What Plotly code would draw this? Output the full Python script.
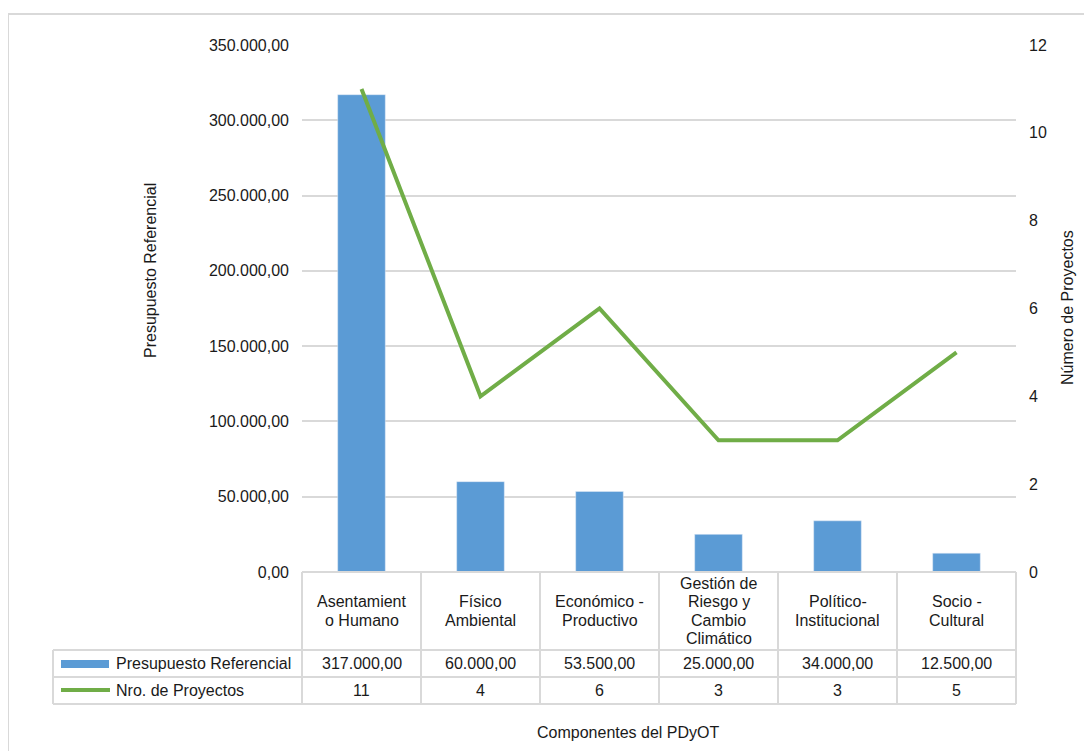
import plotly.graph_objects as go

# ---- data ----
categories = ["Asentamient\no Humano", "Físico\nAmbiental", "Económico -\nProductivo",
              "Gestión de\nRiesgo y\nCambio\nClimático", "Político-\nInstitucional", "Socio -\nCultural"]
presupuesto = [317000.00, 60000.00, 53500.00, 25000.00, 34000.00, 12500.00]
proyectos = [11, 4, 6, 3, 3, 5]
series_names = ["Presupuesto Referencial", "Nro. de Proyectos"]
y_title_left = "Presupuesto Referencial"
y_title_right = "Número de Proyectos"
x_title = "Componentes del PDyOT"

BLUE = "#5b9bd5"
GREEN = "#70ad47"
GRID = "#d9d9d9"
TXT = "#1a1a1a"
FONT = "Liberation Sans, Arial, sans-serif"
FS = 16

OFF = 8  # page body margin
PAGE_W, PAGE_H = 1092, 751
W, H = PAGE_W - OFF, PAGE_H - OFF
X0, X1, Y0, Y1 = 302, 1016, 45, 572  # plot area in page pixels


def px(x):
    return (x - X0) / (X1 - X0)


def py(y):
    return (Y1 - y) / (Y1 - Y0)


def fmt_es(v):
    s = f"{v:,.2f}"
    return s.replace(",", "X").replace(".", ",").replace("X", ".")


def tfont():
    return dict(size=FS, color=TXT, family=FONT)


xs = list(range(len(categories)))

fig = go.Figure()
fig.add_trace(go.Bar(x=xs, y=presupuesto, name=series_names[0], marker_color=BLUE,
                     width=0.4, yaxis="y"))
fig.add_trace(go.Scatter(x=xs, y=proyectos, name=series_names[1], mode="lines",
                         line=dict(color=GREEN, width=4), yaxis="y2"))

shapes = []
# outer chart border
shapes.append(dict(type="rect", xref="paper", yref="paper", x0=px(8), x1=px(1100), y0=py(14), y1=py(760),
                   line=dict(color=GRID, width=2), layer="below"))
# table grid
ncat = len(categories)
for k in range(ncat + 1):
    xp = X0 + k * (X1 - X0) / ncat
    shapes.append(dict(type="line", xref="paper", yref="paper", x0=px(xp), x1=px(xp), y0=py(572), y1=py(704),
                       line=dict(color=GRID, width=2)))
for yy in [650, 677, 704]:
    shapes.append(dict(type="line", xref="paper", yref="paper", x0=px(53), x1=px(X1), y0=py(yy), y1=py(yy),
                       line=dict(color=GRID, width=2)))
shapes.append(dict(type="line", xref="paper", yref="paper", x0=px(53), x1=px(53), y0=py(650), y1=py(704),
                   line=dict(color=GRID, width=2)))
shapes.append(dict(type="line", xref="paper", yref="paper", x0=px(X0), x1=px(X1), y0=py(572), y1=py(572),
                   line=dict(color=GRID, width=2)))
# legend keys
shapes.append(dict(type="rect", xref="paper", yref="paper", x0=px(61), x1=px(109), y0=py(660), y1=py(668),
                   fillcolor=BLUE, line=dict(width=0)))
shapes.append(dict(type="line", xref="paper", yref="paper", x0=px(61), x1=px(110), y0=py(690), y1=py(690),
                   line=dict(color=GREEN, width=4)))

annotations = []
LH = 18.3
for i, c in enumerate(categories):
    lines = c.split("\n")
    n = len(lines)
    for j, ln in enumerate(lines):
        yy = 611 + (j - (n - 1) / 2) * LH
        annotations.append(dict(x=i, xref="x", y=py(yy), yref="paper", text=ln,
                                showarrow=False, xanchor="center", yanchor="middle", font=tfont()))
    annotations.append(dict(x=i, xref="x", y=py(663.5), yref="paper", text=fmt_es(presupuesto[i]),
                            showarrow=False, xanchor="center", yanchor="middle", font=tfont()))
    annotations.append(dict(x=i, xref="x", y=py(690.5), yref="paper", text=str(proyectos[i]),
                            showarrow=False, xanchor="center", yanchor="middle", font=tfont()))
annotations.append(dict(x=px(114), xref="paper", y=py(663.5), yref="paper", text=series_names[0],
                        showarrow=False, xanchor="left", yanchor="middle", font=tfont()))
annotations.append(dict(x=px(114), xref="paper", y=py(690.5), yref="paper", text=series_names[1],
                        showarrow=False, xanchor="left", yanchor="middle", font=tfont()))
annotations.append(dict(x=px(150), xref="paper", y=py(271), yref="paper", text=y_title_left, textangle=-90,
                        showarrow=False, xanchor="center", yanchor="middle", font=tfont()))
annotations.append(dict(x=px(1067), xref="paper", y=py(308), yref="paper", text=y_title_right, textangle=-90,
                        showarrow=False, xanchor="center", yanchor="middle", font=tfont()))
annotations.append(dict(x=px(628), xref="paper", y=py(732), yref="paper", text=x_title,
                        showarrow=False, xanchor="center", yanchor="middle", font=tfont()))

fig.update_layout(
    width=W, height=H, autosize=False,
    margin=dict(l=X0 - OFF, r=PAGE_W - X1, t=Y0 - OFF, b=PAGE_H - Y1, pad=0),
    paper_bgcolor="white", plot_bgcolor="white",
    showlegend=False,
    separators=",.",
    font=tfont(),
    xaxis=dict(range=[-0.5, ncat - 0.5], showticklabels=False, showgrid=False, zeroline=False,
               showline=False, ticks="", fixedrange=True),
    yaxis=dict(range=[0, 350000], dtick=50000, tickformat=",.2f", showgrid=True, gridcolor=GRID,
               gridwidth=1.5, zeroline=False, showline=False, ticks="", ticklabelstandoff=12,
               tickfont=tfont()),
    yaxis2=dict(range=[0, 12], dtick=2, overlaying="y", side="right", showgrid=False, zeroline=False,
                showline=False, ticks="", ticklabelstandoff=12, tickfont=tfont()),
    shapes=shapes,
    annotations=annotations,
    bargap=0.6,
)

fig.write_html("out.html")
